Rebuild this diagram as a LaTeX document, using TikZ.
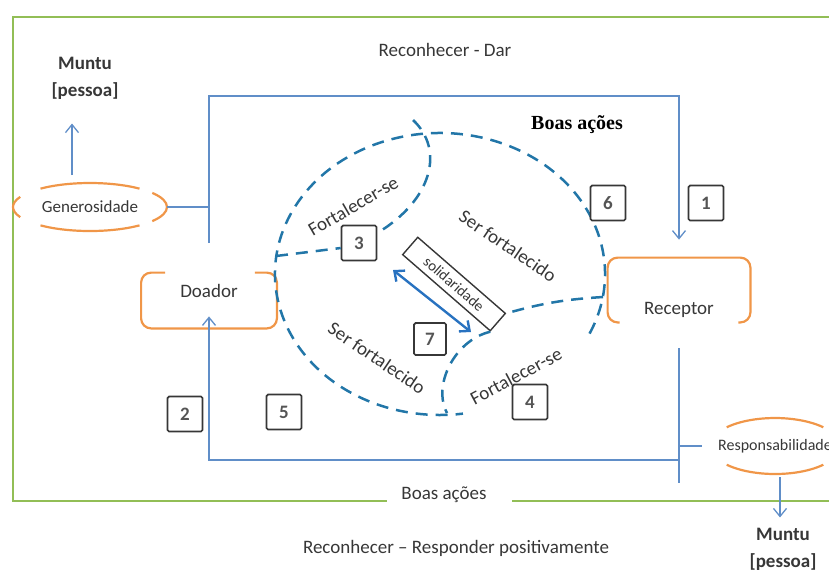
\documentclass[tikz,border=0pt]{standalone}
\usepackage{fontspec}
\setmainfont{Carlito}
\newfontfamily\serifbold{Liberation Serif}
\usepackage{xcolor}
\usepackage{tikz}
\usetikzlibrary{arrows.meta,positioning,calc}
\definecolor{framegreen}{RGB}{146,190,86}
\definecolor{linkblue}{RGB}{96,142,200}
\definecolor{dashblue}{RGB}{34,118,168}
\definecolor{solblue}{RGB}{40,114,192}
\definecolor{warm}{RGB}{240,150,72}
\definecolor{ink}{RGB}{55,55,55}
\tikzset{
  txt/.style={font=\fontsize{9.5}{11}\selectfont, text=ink, inner sep=1pt},
  muntu/.style={font=\fontsize{9.5}{13.5}\selectfont\bfseries, text=ink,
                align=center, inner sep=1pt},
  numbox/.style={draw=ink, fill=white, line width=0.8pt, rounded corners=0.8pt,
                 minimum size=17.5pt, inner sep=0pt,
                 font=\fontsize{9.5}{10}\selectfont\bfseries, text=ink!85},
  brkbox/.style={minimum width=67.5pt, minimum height=27.5pt, inner sep=0pt},
  brk/.style={draw=warm, line width=1.1pt, rounded corners=5pt},
  oval/.style={draw=warm, line width=1.1pt},
  conn/.style={draw=linkblue, line width=0.65pt},
  arr/.style={conn, -{Straight Barb[length=4pt,width=6.5pt]}},
  circ/.style={draw=dashblue, line width=1.25pt, dash pattern=on 6pt off 4pt},
  dbl/.style={draw=solblue, line width=1.2pt,
              {Straight Barb[length=4pt,width=7pt]}-{Straight Barb[length=4pt,width=7pt]}},
  frame/.style={draw=framegreen, line width=1pt},
  rotlbl/.style={txt, inner sep=0pt},
}

\begin{document}
\begin{tikzpicture}[x=0.5pt,y=-0.5pt]
  \useasboundingbox (0,0) rectangle (829,570);
  \clip (0,0) rectangle (829,570);

  % ---- outer frame ----
  \draw[frame] (835,17) -- (13,17) -- (13,501) -- (387,501);
  \draw[frame] (512,501) -- (835,501);

  % ---- headings ----
  \node[txt] (dar) at (445,50) {Reconhecer - Dar};
  \node[txt] (resp2) at (456,548) {Reconhecer -- Responder positivamente};
  \node[txt] (boasB) at (444,495) {Boas ações};
  \node[font=\serifbold\fontsize{10}{12}\selectfont\bfseries, text=black] (boasT) at (577,125) {Boas ações};
  \node[muntu] (muntuL) at (85,78) {Muntu\\{}[pessoa]};
  \node[muntu] (muntuR) at (783,549) {Muntu\\{}[pessoa]};

  % ---- generosidade / responsabilidade ----
  \node[txt, font=\fontsize{8.5}{10}\selectfont, minimum width=77pt, minimum height=23.5pt, inner sep=0pt] (gen) at (90,207) {Generosidade};
  \draw[oval] (gen.center) ++(-130:77 and 24) arc[start angle=-130, end angle=-50, x radius=77, y radius=24];
  \draw[oval] (gen.center) ++(50:77 and 24) arc[start angle=50, end angle=130, x radius=77, y radius=24];
  \draw[oval] (gen.center) ++(155:77 and 24) arc[start angle=155, end angle=205, x radius=77, y radius=24];
  \draw[oval] (gen.center) ++(-36:77 and 24) arc[start angle=-36, end angle=36, x radius=77, y radius=24];

  \node[txt, font=\fontsize{8}{10}\selectfont, minimum width=65pt, minimum height=28pt, inner sep=0pt] (resp) at (775,446) {Responsabilidade};
  \draw[oval] (resp.center) ++(-138:65 and 28) arc[start angle=-138, end angle=-42, x radius=65, y radius=28];
  \draw[oval] (resp.center) ++(42:65 and 28) arc[start angle=42, end angle=138, x radius=65, y radius=28];

  \draw[arr, shorten >=11pt] ([xshift=-9pt,yshift=4pt]gen.north) -- ([xshift=-6.5pt]muntuL.south);
  \draw[arr, shorten >=4pt] ([xshift=2.5pt,yshift=-1.5pt]resp.south) -- ([xshift=-1.5pt]muntuR.north);

  % ---- doador / receptor ----
  \node[brkbox] (doador) at (209,300.5) {};
  \draw[brk] ([xshift=12pt]doador.north west) -- (doador.north west) -- (doador.south west)
             -- (doador.south east) -- (doador.north east) -- ([xshift=-11pt]doador.north east);
  \node[txt] (doadortxt) at ([yshift=5pt]doador.center) {Doador};

  \node[brkbox, minimum width=71pt, minimum height=32pt] (recep) at (679,290) {};
  \draw[brk] ([xshift=6pt]recep.south west) -- (recep.south west) -- (recep.north west)
             -- (recep.north east) -- (recep.south east) -- ([xshift=-6pt]recep.south east);
  \node[txt] (receptxt) at ([yshift=-10pt]recep.center) {Receptor};

  % ---- blue connectors ----
  \coordinate (jtop) at (209,96);
  \coordinate (jtopend) at (209,243);
  \coordinate (jbot) at (679,348);
  \coordinate (jbotend) at (679,483);
  \coordinate (jcorner) at (209,460);
  \draw[conn] (gen.east) -- (gen.east -| jtop);
  \draw[arr, shorten >=9pt] (jtopend) -- (jtop) -| (recep.north);
  \draw[conn] (jbot) -- (jbotend);
  \draw[arr] (jbot |- jcorner) -- (jcorner) -- ([yshift=6pt]doador.south);
  \draw[conn] (jbot |- resp.west) -- ([xshift=-4pt]resp.west);

  % ---- dashed circle ----
  \coordinate (cc) at (440,274);
  \coordinate (ctop) at (413,120);
  \coordinate (cL) at (276,256);
  \coordinate (cR) at (603,297);
  \coordinate (cB) at (447,413);
  \draw[circ] (cc) ++(25:165 and 141) arc[start angle=25, end angle=-278, x radius=165, y radius=141];

  \node[draw=ink, line width=0.7pt, fill=white, minimum width=58pt, minimum height=11.5pt,
        inner sep=0pt, rotate=-41, font=\fontsize{7.5}{9}\selectfont, text=ink] (solid) at (454,284) {solidaridade};

  \node[numbox] (n1) at (706,203) {1};
  \node[numbox] (n2) at (185,414) {2};
  \node[numbox] (n3) at (359,243) {3};
  \node[numbox] (n4) at (530,402) {4};
  \node[numbox] (n5) at (284,412) {5};
  \node[numbox] (n6) at (608,203) {6};
  \node[numbox, minimum size=16pt] (n7) at (430,339) {7};

  \draw[circ] (ctop) .. controls (445,150) and (432,200) .. ([yshift=5pt]n3.east);
  \draw[circ] (cL) -- ([yshift=-2.5pt]n3.west);
  \draw[circ] (cR) to[bend right=6] (solid.north east);
  \draw[circ] (solid.south east) .. controls (455,340) and (432,385) .. (cB);

  \coordinate (solA) at (393,270);
  \coordinate (solB) at (471,332);
  \draw[dbl] (solA) -- (solB);

  % ---- labels in circle ----
  \node[rotlbl, rotate=30] (fortA) at (353,206) {Fortalecer-se};
  \node[rotlbl, rotate=28] (fortB) at (516,376) {Fortalecer-se};
  \node[rotlbl, rotate=-34] (serA) at (508,246) {Ser fortalecido};
  \node[rotlbl, rotate=-34] (serB) at (377,358) {Ser fortalecido};
\end{tikzpicture}
\end{document}
